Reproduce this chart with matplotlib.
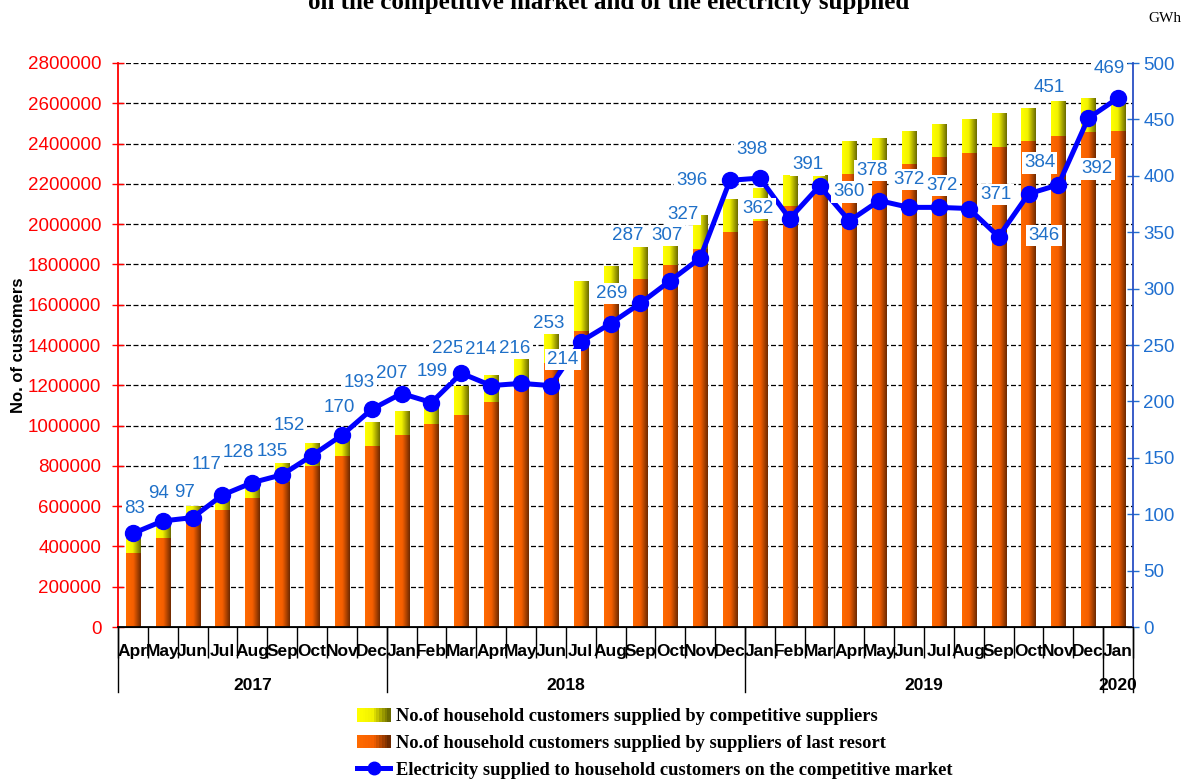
import matplotlib
matplotlib.use("Agg")
import matplotlib.pyplot as plt
import numpy as np
from matplotlib.colors import LinearSegmentedColormap
from matplotlib.lines import Line2D
from matplotlib.patches import Rectangle
from matplotlib.legend_handler import HandlerBase

# ---- data ----
months = ["Apr", "May", "Jun", "Jul", "Aug", "Sep", "Oct", "Nov", "Dec",
          "Jan", "Feb", "Mar", "Apr", "May", "Jun", "Jul", "Aug", "Sep", "Oct", "Nov", "Dec",
          "Jan", "Feb", "Mar", "Apr", "May", "Jun", "Jul", "Aug", "Sep", "Oct", "Nov", "Dec",
          "Jan"]
years = ["2017", "2018", "2019", "2020"]
months_per_year = [9, 12, 12, 1]

# household customers, thousands
last_resort_k = [369, 440, 522, 581, 642, 721, 799, 849, 899,
                 953, 1008, 1052, 1117, 1190, 1310, 1470, 1640, 1728, 1797, 1877, 1962,
                 2018, 2090, 2170, 2249, 2270, 2300, 2333, 2355, 2383, 2413, 2436, 2458,
                 2463]
competitive_k = [76, 72, 78, 47, 63, 91, 110, 91, 118,
                 119, 87, 141, 134, 147, 206, 248, 149, 156, 90, 166, 163,
                 163, 149, 70, 159, 156, 163, 162, 167, 167, 162, 171, 168,
                 177]
# electricity supplied, GWh
energy_gwh = [83, 94, 97, 117, 128, 135, 152, 170, 193,
              207, 199, 225, 214, 216, 214, 253, 269, 287, 307, 327, 396,
              398, 362, 391, 360, 378, 372, 372, 371, 346, 384, 392, 451,
              469]
# label offsets from the point (pixels, right / up)
label_dx = [2, -4, -8, -16, -14, -10, -23, -3, -13,
            -10, 1, -14, -11, -6, 12, -32, 1, -13, -3, -17, -38,
            -8, -32, -12, 0, -7, 0, 3, 27, 45, 11, 39, -39,
            -9]
label_dy = [25, 27, 25, 31, 30, 23, 30, 28, 27,
            20, 31, 25, 36, 35, 26, 18, 30, 68, 45, 44, 0,
            29, 10, 21, 29, 30, 28, 22, 14, 1, 31, 16, 31,
            29]

last_resort = np.array(last_resort_k) * 1000
competitive = np.array(competitive_k) * 1000
x = np.arange(len(months))

W, H, DPI = 1190, 780, 100
px = 72.0 / DPI  # points per pixel

plt.rcParams["font.family"] = ["Liberation Sans", "DejaVu Sans"]

orange_cmap = LinearSegmentedColormap.from_list(
    "org", [(0, "#ff6a00"), (0.5, "#f55f00"), (1, "#6e2a00")])
yellow_cmap = LinearSegmentedColormap.from_list(
    "yel", [(0, "#ffff00"), (0.45, "#f2f200"), (1, "#6b6b00")])
grad = np.linspace(0, 1, 64)[None, :]


class GradHandler(HandlerBase):
    def __init__(self, cmap):
        super().__init__()
        self.cmap = cmap

    def create_artists(self, legend, orig_handle, xdescent, ydescent,
                       width, height, fontsize, trans):
        n = 12
        arts = []
        for k in range(n):
            r = Rectangle((-xdescent + width * k / n, -ydescent), width / n + 0.3, height,
                          facecolor=self.cmap(k / (n - 1)), edgecolor="none", transform=trans)
            arts.append(r)
        return arts


fig = plt.figure(figsize=(W / DPI, H / DPI), dpi=DPI)
ax = fig.add_axes([118 / W, 1 - 627 / H, (1133 - 118) / W, (627 - 63) / H])
ax2 = ax.twinx()

bw = 0.47
for i in x:
    x0, x1 = i - bw / 2, i + bw / 2
    ax.imshow(grad, cmap=orange_cmap, extent=[x0, x1, 0, last_resort[i]],
              aspect="auto", zorder=2, interpolation="bilinear")
    ax.imshow(grad, cmap=yellow_cmap,
              extent=[x0, x1, last_resort[i], last_resort[i] + competitive[i]],
              aspect="auto", zorder=2, interpolation="bilinear")

ax.set_xlim(-0.5, len(months) - 0.5)
ax.set_ylim(0, 2800000)
ax.set_yticks(np.arange(0, 2800001, 200000))
ax.set_yticklabels([str(v) for v in range(0, 2800001, 200000)])
ax.yaxis.grid(True, color="black", linestyle=(0, (4, 2)), linewidth=0.9, zorder=0)
ax.set_axisbelow(True)
ax.tick_params(axis="y", colors="red", labelsize=13.5, direction="inout", length=8,
               width=1, pad=8)
ax.spines["left"].set_color("red")
ax.spines["left"].set_linewidth(1.3)
ax.spines["top"].set_visible(False)
ax.spines["right"].set_visible(False)
ax.spines["bottom"].set_linewidth(1.3)
ax.set_ylabel("No. of customers", fontsize=12, fontweight="bold", labelpad=1.5)

# month labels and separators
ax.set_xticks(x)
ax.set_xticklabels(months, fontsize=12.5, fontweight="bold")
ax.tick_params(axis="x", which="major", length=0, pad=12)
ax.set_xticks(np.arange(-0.5, len(months), 1), minor=True)
ax.tick_params(axis="x", which="minor", length=22, width=1, color="black")

# year row
tr = ax.get_xaxis_transform()
start = 0
bounds = [-0.5]
for yr, n in zip(years, months_per_year):
    ax.text(start + (n - 1) / 2, -0.104, yr, transform=tr, ha="center", va="center",
            fontsize=12.5, fontweight="bold")
    start += n
    bounds.append(start - 0.5)
for b in bounds:
    ax.plot([b, b], [0, -0.116], transform=tr, color="black", lw=1, clip_on=False)

# electricity line
ax2.plot(x, energy_gwh, color="#0000ff", lw=3.6, marker="o", markersize=11.5, zorder=3)
ax2.set_ylim(0, 500)
ax2.set_yticks(np.arange(0, 501, 50))
ax2.tick_params(axis="y", colors="#1f6fd0", labelsize=13.5, direction="inout", length=8, width=1)
ax2.spines["right"].set_color("#2a4fc4")
ax2.spines["right"].set_linewidth(1.3)
ax2.spines["left"].set_visible(False)
ax2.spines["top"].set_visible(False)

for i, v in enumerate(energy_gwh):
    ax2.annotate(str(v), (x[i], v), xytext=(label_dx[i] * px, label_dy[i] * px),
                 textcoords="offset points", ha="center", va="center", fontsize=13.5,
                 color="#1f70c8", zorder=5,
                 bbox=dict(boxstyle="square,pad=0.12", facecolor="white", edgecolor="none"))

# title (cut at the top in the reference) and unit
fig.text(609 / W, 1 - 9 / H, "on the competitive market and of the electricity supplied",
         ha="center", va="baseline", fontsize=18, fontweight="bold",
         family=["Liberation Serif", "DejaVu Serif"])
fig.text(1165 / W, 1 - 18 / H, "GWh", ha="center", va="center", fontsize=11,
         family=["Liberation Serif", "DejaVu Serif"])

# legend
h_comp = Rectangle((0, 0), 1, 1)
h_last = Rectangle((0, 0), 1, 1)
h_line = Line2D([], [], color="#0000ff", lw=3.6, marker="o", markersize=9)
leg = fig.legend(
    [h_comp, h_last, h_line],
    ["No.of household customers supplied by competitive suppliers",
     "No.of household customers supplied by suppliers of last resort",
     "Electricity supplied to household customers on the competitive market"],
    handler_map={h_comp: GradHandler(yellow_cmap), h_last: GradHandler(orange_cmap)},
    loc="upper left", bbox_to_anchor=(357 / W, 1 - 708 / H), frameon=False,
    prop={"family": ["Liberation Serif", "DejaVu Serif"], "weight": "bold", "size": 13.3},
    handlelength=1.8, handleheight=0.75, handletextpad=0.3, labelspacing=0.52,
    numpoints=1, borderpad=0, borderaxespad=0)

fig.savefig("out.png", dpi=DPI)
